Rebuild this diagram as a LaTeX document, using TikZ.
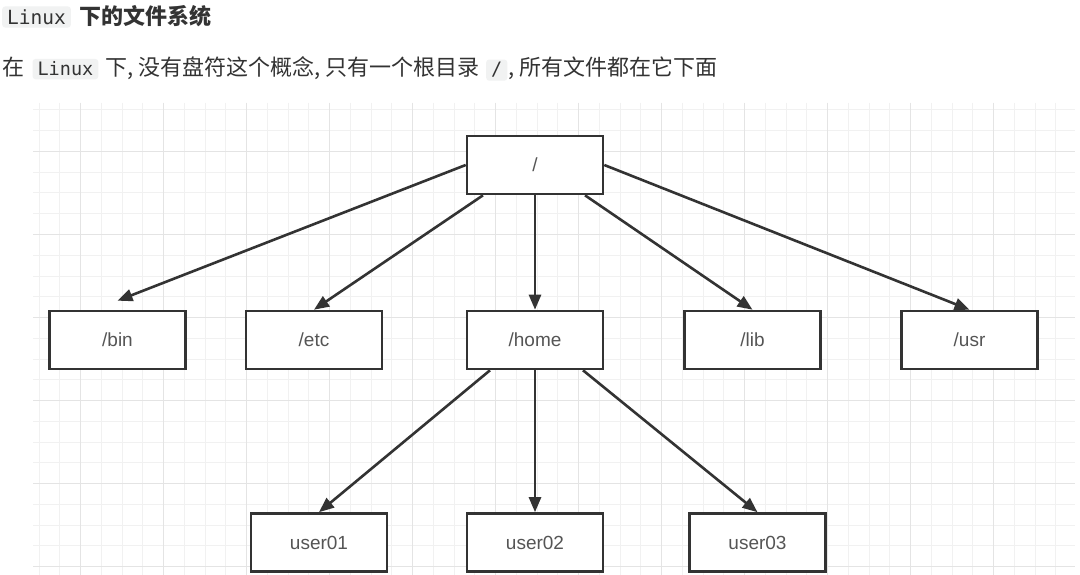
\documentclass[tikz,border=0pt]{standalone}
\usepackage{fontspec}
\setmainfont{Liberation Sans}
\setmonofont{DejaVu Sans Mono}
\newfontfamily\cjk{Noto Sans CJK SC}
\usetikzlibrary{arrows.meta,positioning}
\definecolor{ink}{HTML}{333333}
\definecolor{label}{HTML}{555555}
\definecolor{gridminor}{HTML}{F1F1F1}
\definecolor{gridmajor}{HTML}{E4E4E4}
\definecolor{codebg}{HTML}{F1F2F2}
\tikzset{
  dir/.style={draw=ink, line width=2.6pt, fill=white, minimum width=136pt,
    minimum height=58pt, text=label, font=\fontsize{19}{19}\selectfont},
  arrow/.style={draw=ink, line width=2.6pt, -{Triangle[length=15pt,width=12pt]}},
  code/.style={fill=codebg, rounded corners=3pt, inner xsep=5pt, inner ysep=3pt, text=ink},
  txt/.style={inner sep=0pt, text=ink},
}
\begin{document}
\begin{tikzpicture}[x=1pt,y=-1pt]
    \useasboundingbox[fill=white] (0,0) rectangle (1080,575);
    % grid
    \foreach \i in {0,...,49}
        \draw[gridminor, line width=1pt] ({39+20.75*\i},103) -- ({39+20.75*\i},575);
    \foreach \i in {0,...,22}
        \draw[gridminor, line width=1pt] (33,{110+20.75*\i}) -- (1075,{110+20.75*\i});
    \foreach \i in {0,...,11}
        \draw[gridmajor, line width=1pt] ({80.5+83*\i},103) -- ({80.5+83*\i},575);
    \foreach \i in {0,...,5}
        \draw[gridmajor, line width=1pt] (33,{151.5+83*\i}) -- (1075,{151.5+83*\i});

    % heading and text
    \node[code, font=\fontsize{19.5}{19.5}\ttfamily, anchor=west] (h1) at (2,17) {Linux};
    \node[txt, font=\cjk\bfseries\fontsize{22}{22}\selectfont, base right=8pt of h1] (h2) {下的文件系统};
    \node[txt, font=\cjk\fontsize{22}{22}\selectfont, anchor=base west] (b1) at (2,76) {在};
    \node[code, font=\fontsize{18.5}{18.5}\ttfamily, base right=8pt of b1] (b2) {Linux};
    \node[txt, font=\cjk\fontsize{22}{22}\selectfont, base right=7pt of b2] (b3) {下, 没有盘符这个概念, 只有一个根目录};
    \node[code, font=\fontsize{18.5}{18.5}\ttfamily, base right=6pt of b3] (b4) {/};
    \node[txt, font=\cjk\fontsize{22}{22}\selectfont, base right=1pt of b4] (b5) {, 所有文件都在它下面};

    % directories
    \node[dir] (root) at (535,165) {/};
    \node[dir] (bin) at (117.5,340) {/bin};
    \node[dir] (etc) at (314,340) {/etc};
    \node[dir] (home) at (535,340) {/home};
    \node[dir] (lib) at (752.5,340) {/lib};
    \node[dir] (usr) at (969.5,340) {/usr};
    \node[dir] (u1) at (319,542.5) {user01};
    \node[dir] (u2) at (535,542.5) {user02};
    \node[dir] (u3) at (757.5,542.5) {user03};

    \draw[arrow] (root.west) -- ([yshift=9pt]bin.north);
    \draw[arrow] ([xshift=-52pt]root.south) -- (etc.north);
    \draw[arrow] (root.south) -- (home.north);
    \draw[arrow] ([xshift=50pt]root.south) -- (lib.north);
    \draw[arrow] (root.east) -- (usr.north);
    \draw[arrow] ([xshift=-45pt]home.south) -- (u1.north);
    \draw[arrow] (home.south) -- (u2.north);
    \draw[arrow] ([xshift=48pt]home.south) -- (u3.north);
\end{tikzpicture}
\end{document}
